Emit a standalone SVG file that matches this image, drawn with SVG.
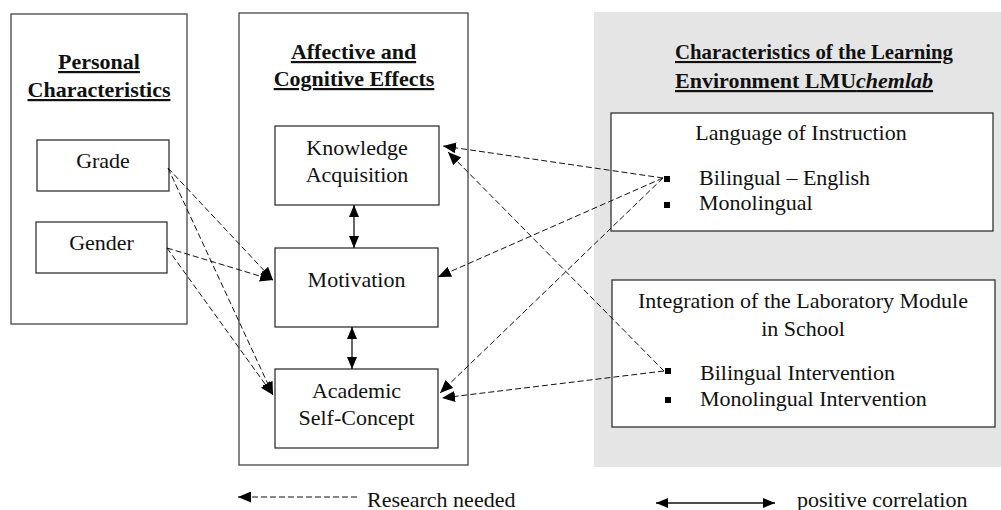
<svg xmlns="http://www.w3.org/2000/svg" width="1001" height="510" viewBox="0 0 1001 510">
  <defs>
    <marker id="ah" viewBox="0 0 13 11" refX="13" refY="5.5" markerWidth="13" markerHeight="11" markerUnits="userSpaceOnUse" orient="auto">
      <path d="M0,0 L13,5.5 L0,11 z" fill="#000"/>
    </marker>
    <marker id="ah2" viewBox="0 0 12 10" refX="12" refY="5" markerWidth="12" markerHeight="10" markerUnits="userSpaceOnUse" orient="auto-start-reverse">
      <path d="M0,0 L12,5 L0,10 z" fill="#000"/>
    </marker>
    <style>
      text { font-family: "Liberation Serif", "Times New Roman", serif; fill: #111; font-size: 22px; }
      .head { font-weight: bold; text-decoration: underline; }
      .mid { text-anchor: middle; }
      .frame { fill: #fff; stroke: #444; stroke-width: 1.3; }
      .box { fill: #fff; stroke: #333; stroke-width: 1.3; }
      .dash { fill: none; stroke: #111; stroke-width: 1; stroke-dasharray: 6 3; marker-end: url(#ah); }
      .corr { fill: none; stroke: #111; stroke-width: 1.3; marker-start: url(#ah2); marker-end: url(#ah2); }
      .bullet { fill: #000; }
    </style>
  </defs>

  <!-- shaded panel for the learning environment -->
  <rect x="594" y="12" width="407" height="455" fill="#e5e5e5"/>

  <!-- personal characteristics column -->
  <g id="personal">
    <rect class="frame" x="11" y="14" width="176" height="310"/>
    <text class="head mid" x="99" y="69">Personal</text>
    <text class="head mid" x="99" y="97">Characteristics</text>
  </g>
  <g id="grade">
    <rect class="box" x="37" y="140" width="132" height="51"/>
    <text class="mid" x="103" y="168">Grade</text>
  </g>
  <g id="gender">
    <rect class="box" x="36" y="222" width="131" height="51"/>
    <text class="mid" x="101.5" y="250">Gender</text>
  </g>

  <!-- affective and cognitive effects column -->
  <g id="effects">
    <rect class="frame" x="239" y="13" width="229" height="452"/>
    <text class="head mid" x="353.5" y="59">Affective and</text>
    <text class="head mid" x="354" y="86">Cognitive Effects</text>
  </g>
  <g id="knowledge">
    <rect class="box" x="275" y="126" width="164" height="79"/>
    <text class="mid" x="357" y="155">Knowledge</text>
    <text class="mid" x="357" y="182">Acquisition</text>
  </g>
  <g id="motivation">
    <rect class="box" x="275" y="248" width="163" height="79"/>
    <text class="mid" x="356.5" y="287">Motivation</text>
  </g>
  <g id="selfconcept">
    <rect class="box" x="275" y="369" width="163" height="79"/>
    <text class="mid" x="356.5" y="398">Academic</text>
    <text class="mid" x="356.5" y="425">Self-Concept</text>
  </g>

  <!-- learning environment column -->
  <g id="environment">
    <text class="head" x="675" y="59" style="font-size:21px" textLength="278" lengthAdjust="spacingAndGlyphs">Characteristics of the Learning</text>
    <text class="head" x="675" y="88">Environment LMU<tspan font-style="italic">chemlab</tspan></text>
  </g>
  <g id="language">
    <rect class="box" x="611" y="113" width="382" height="118"/>
    <text class="mid" x="801" y="140">Language of Instruction</text>
    <rect class="bullet" x="664" y="176" width="6" height="6"/>
    <text x="699" y="185">Bilingual – English</text>
    <rect class="bullet" x="664" y="202" width="6" height="6"/>
    <text x="699" y="210">Monolingual</text>
  </g>
  <g id="integration">
    <rect class="box" x="612" y="280" width="383" height="147"/>
    <text class="mid" x="803" y="308">Integration of the Laboratory Module</text>
    <text class="mid" x="803" y="336">in School</text>
    <rect class="bullet" x="665" y="368" width="6" height="6"/>
    <text x="700" y="380">Bilingual Intervention</text>
    <rect class="bullet" x="665" y="397" width="6" height="6"/>
    <text x="700" y="406">Monolingual Intervention</text>
  </g>

  <!-- connectors -->
  <g id="connectors">
    <line class="dash" x1="168" y1="168" x2="273" y2="280"/>
    <line class="dash" x1="168" y1="168" x2="273" y2="395"/>
    <line class="dash" x1="167" y1="248" x2="273" y2="280"/>
    <line class="dash" x1="167" y1="248" x2="273" y2="395"/>
    <line class="dash" x1="663" y1="178" x2="443" y2="146"/>
    <line class="dash" x1="663" y1="178" x2="438" y2="277"/>
    <line class="dash" x1="663" y1="178" x2="440" y2="393"/>
    <line class="dash" x1="664" y1="371" x2="448" y2="152"/>
    <line class="dash" x1="664" y1="371" x2="442" y2="398"/>
    <line class="corr" x1="354" y1="205" x2="354" y2="248"/>
    <line class="corr" x1="352" y1="327" x2="352" y2="369"/>
  </g>

  <!-- legend -->
  <g id="legend">
    <line class="dash" x1="357" y1="497" x2="238" y2="497"/>
    <text x="367" y="507">Research needed</text>
    <line class="corr" x1="656" y1="503" x2="775" y2="503"/>
    <text x="797" y="507">positive correlation</text>
  </g>
</svg>
